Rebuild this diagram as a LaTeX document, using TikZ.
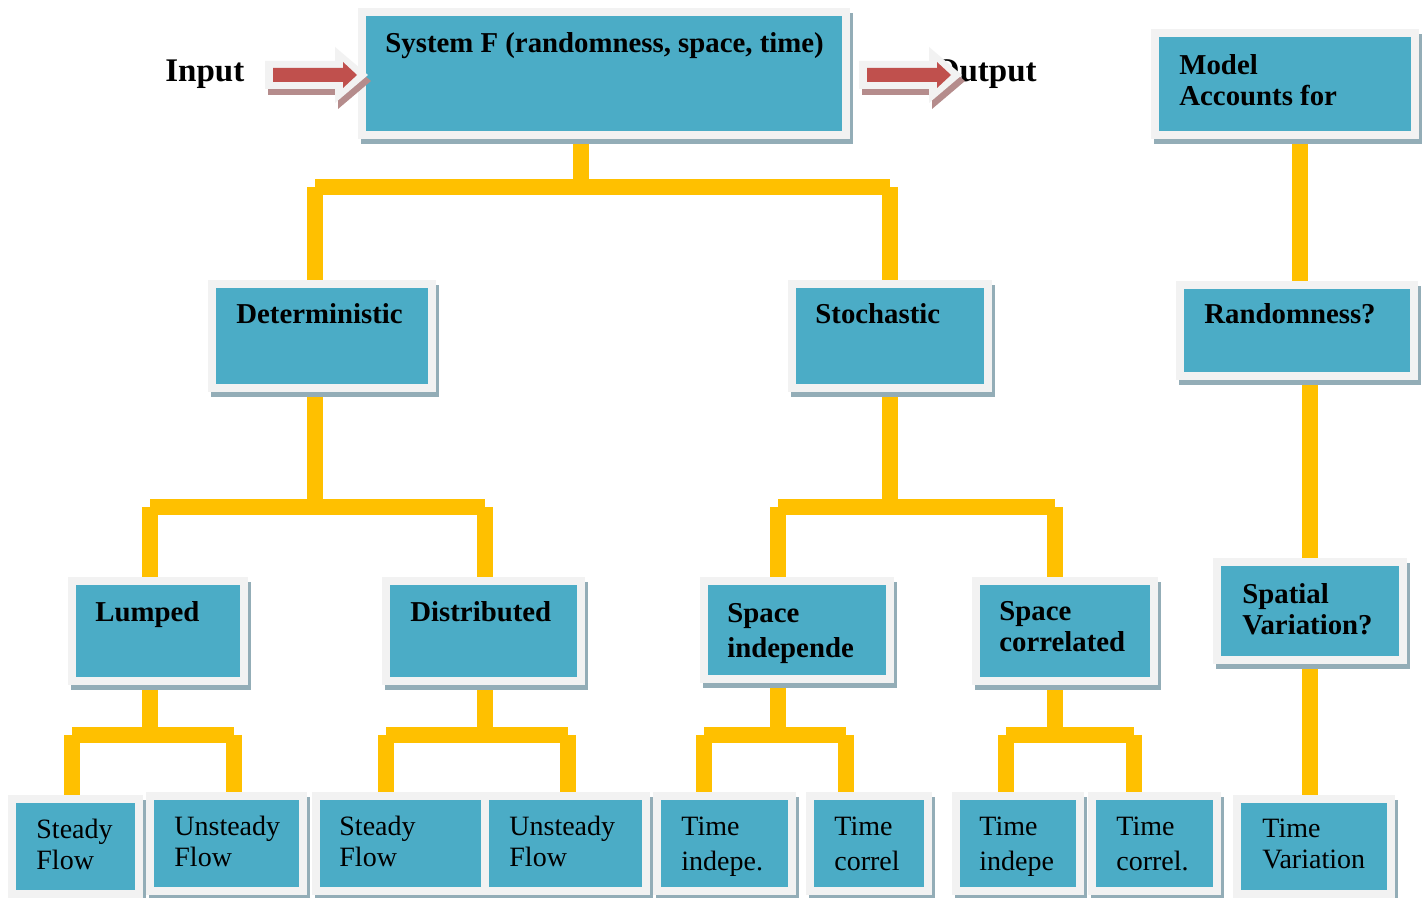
\documentclass[tikz,border=0pt]{standalone}
\usepackage{fontspec}
\setmainfont{Liberation Serif}
\usetikzlibrary{fit,shadows}
\definecolor{boxblue}{HTML}{4BACC6}
\definecolor{framegrey}{HTML}{F2F2F2}
\definecolor{shadowc}{HTML}{93ADB7}
\definecolor{connyellow}{HTML}{FFC000}
\definecolor{arrowred}{HTML}{C0504D}
\definecolor{arrowshadow}{HTML}{B58C8C}
\pgfdeclarelayer{bg}
\pgfsetlayers{bg,main}
\tikzset{
  box/.style={fill=framegrey, draw=none, inner sep=0pt, outer sep=0pt,
    drop shadow={shadow xshift=1.5pt, shadow yshift=-2.5pt, fill=shadowc, opacity=1},
    path picture={\fill[boxblue] ([shift={(4pt,-4pt)}]path picture bounding box.north west)
      rectangle ([shift={(-4pt,4pt)}]path picture bounding box.south east);}},
  btxt/.style={anchor=north west, inner sep=0pt, align=left, font=\bfseries\fontsize{14.4}{15.5}\selectfont},
  btxtw/.style={btxt, font=\bfseries\fontsize{14.4}{17.5}\selectfont},
  rtxt/.style={anchor=north west, inner sep=0pt, align=left, font=\fontsize{14}{15.5}\selectfont},
  rtxtw/.style={rtxt, font=\fontsize{14}{17.5}\selectfont},
  conn/.style={draw=connyellow, line width=8pt, line cap=butt},
  bigtxt/.style={inner sep=0pt, font=\bfseries\fontsize{16.5}{18}\selectfont},
  blockarrow/.pic={
    \fill[arrowshadow] (3,-8) -- (73,-8) -- (73,-22) -- (106,6) -- (73,34) -- (73,20) -- (3,20) -- cycle;
    \fill[framegrey] (0,-14) -- (70,-14) -- (70,-28) -- (103,0) -- (70,28) -- (70,14) -- (0,14) -- cycle;
    \fill[arrowred] (8,-7) -- (78,-7) -- (78,-13) -- (92,0) -- (78,13) -- (78,7) -- (8,7) -- cycle;
  }
}
\begin{document}
\begin{tikzpicture}[x=0.5pt,y=-0.5pt]
\useasboundingbox (0,0) rectangle (1426,898);

% boxes
\node[box, fit={(358,8)(850,139)}] (sysF) {};
\node[box, fit={(1151,29)(1419,139)}] (model) {};
\node[box, fit={(208,280)(436,392)}] (det) {};
\node[box, fit={(788,280)(992,392)}] (stoch) {};
\node[box, fit={(1176,281)(1418,380)}] (rand) {};
\node[box, fit={(68,577)(248,685)}] (lumped) {};
\node[box, fit={(382,577)(585,685)}] (distr) {};
\node[box, fit={(700,577)(894,683)}] (spind) {};
\node[box, fit={(972,577)(1158,685)}] (spcor) {};
\node[box, fit={(1213,558)(1407,664)}] (spatial) {};
\node[box, fit={(8,795)(143,898)}] (sf1) {};
\node[box, fit={(146,792)(307,895)}] (uf1) {};
\node[box, fit={(312,792)(489,895)}] (sf2) {};
\node[box, fit={(481,792)(650,895)}] (uf2) {};
\node[box, fit={(653,792)(796,895)}] (ti1) {};
\node[box, fit={(806,792)(932,895)}] (tc1) {};
\node[box, fit={(952,792)(1084,895)}] (ti2) {};
\node[box, fit={(1088,792)(1221,895)}] (tc2) {};
\node[box, fit={(1233,795)(1395,898)}] (tv) {};

% texts
\node[btxt] (sysF-t) at (385,32) {System F (randomness, space, time)};
\node[btxt] (model-t) at (1179,54) {Model\\Accounts for};
\node[btxt] (det-t) at (236,303) {Deterministic};
\node[btxt] (stoch-t) at (815,303) {Stochastic};
\node[btxt] (rand-t) at (1204,303) {Randomness?};
\node[btxt] (lumped-t) at (95,601) {Lumped};
\node[btxt] (distr-t) at (410,601) {Distributed};
\node[btxtw] (spind-t) at (727,603) {Space\\independe};
\node[btxt] (spcor-t) at (999,601) {Space\\correlated};
\node[btxt] (spatial-t) at (1242,583) {Spatial\\Variation?};
\node[rtxt] (sf1-t) at (36,819) {Steady\\Flow};
\node[rtxt] (uf1-t) at (174,816) {Unsteady\\Flow};
\node[rtxt] (sf2-t) at (339,816) {Steady\\Flow};
\node[rtxt] (uf2-t) at (509,816) {Unsteady\\Flow};
\node[rtxtw] (ti1-t) at (681,817) {Time\\indepe.};
\node[rtxtw] (tc1-t) at (834,817) {Time\\correl};
\node[rtxtw] (ti2-t) at (979,817) {Time\\indepe};
\node[rtxtw] (tc2-t) at (1116,817) {Time\\correl.};
\node[rtxt] (tv-t) at (1262,819) {Time\\Variation};

% input / output
\node[bigtxt, anchor=base west] (input) at (165,82) {Input};
\node[bigtxt, anchor=base east] (output) at (1037,82) {Output};
\pic at (265,75) {blockarrow};
\pic at (859,75) {blockarrow};

% connector attachment points
\coordinate (sysF-out) at ([xshift=-11.5pt]sysF.south);
\coordinate (det-in) at ([xshift=-3.5pt]det.north);
\coordinate (det-out) at ([xshift=-3.5pt]det.south);
\coordinate (stoch-in) at (stoch.north);
\coordinate (stoch-out) at (stoch.south);
\coordinate (lumped-in) at ([xshift=-4pt]lumped.north);
\coordinate (lumped-out) at ([xshift=-4pt]lumped.south);
\coordinate (distr-in) at ([xshift=0.75pt]distr.north);
\coordinate (distr-out) at ([xshift=0.75pt]distr.south);
\coordinate (spind-in) at ([xshift=-9.5pt]spind.north);
\coordinate (spind-out) at ([xshift=-9.5pt]spind.south);
\coordinate (spcor-in) at ([xshift=-5pt]spcor.north);
\coordinate (spcor-out) at ([xshift=-5pt]spcor.south);
\coordinate (sf1-in) at ([xshift=-1.75pt]sf1.north);
\coordinate (uf1-in) at ([xshift=3.75pt]uf1.north);
\coordinate (sf2-in) at ([xshift=-7.25pt]sf2.north);
\coordinate (uf2-in) at ([xshift=1.25pt]uf2.north);
\coordinate (ti1-in) at ([xshift=-10.25pt]ti1.north);
\coordinate (tc1-in) at ([xshift=-11.5pt]tc1.north);
\coordinate (ti2-in) at ([xshift=-6pt]ti2.north);
\coordinate (tc2-in) at ([xshift=-10.25pt]tc2.north);
\coordinate (model-out) at ([xshift=7.5pt]model.south);
\coordinate (rand-in) at ([xshift=1.5pt]rand.north);
\coordinate (rand-out) at ([xshift=6.5pt]rand.south);
\coordinate (tv-in) at ([xshift=-2pt]tv.north);
\coordinate (b1) at (0,187);
\coordinate (b2) at (0,507);
\coordinate (b3) at (0,735);

\begin{pgfonlayer}{bg}
\fill[white] (0,0) rectangle (1426,898);
% level 1
\draw[conn] (sysF-out) -- (sysF-out |- b1);
\draw[conn] (det-in |- b1) -- (stoch-in |- b1);
\draw[conn] (det-in |- b1) -- (det-in);
\draw[conn] (stoch-in |- b1) -- (stoch-in);
% level 2 left
\draw[conn] (det-out) -- (det-out |- b2);
\draw[conn] (lumped-in |- b2) -- (distr-in |- b2);
\draw[conn] (lumped-in |- b2) -- (lumped-in);
\draw[conn] (distr-in |- b2) -- (distr-in);
% level 2 right
\draw[conn] (stoch-out) -- (stoch-out |- b2);
\draw[conn] (spind-in |- b2) -- (spcor-in |- b2);
\draw[conn] (spind-in |- b2) -- (spind-in);
\draw[conn] (spcor-in |- b2) -- (spcor-in);
% level 3
\draw[conn] (lumped-out) -- (lumped-out |- b3);
\draw[conn] (sf1-in |- b3) -- (uf1-in |- b3);
\draw[conn] (sf1-in |- b3) -- (sf1-in);
\draw[conn] (uf1-in |- b3) -- (uf1-in);
\draw[conn] (distr-out) -- (distr-out |- b3);
\draw[conn] (sf2-in |- b3) -- (uf2-in |- b3);
\draw[conn] (sf2-in |- b3) -- (sf2-in);
\draw[conn] (uf2-in |- b3) -- (uf2-in);
\draw[conn] (spind-out) -- (spind-out |- b3);
\draw[conn] (ti1-in |- b3) -- (tc1-in |- b3);
\draw[conn] (ti1-in |- b3) -- (ti1-in);
\draw[conn] (tc1-in |- b3) -- (tc1-in);
\draw[conn] (spcor-out) -- (spcor-out |- b3);
\draw[conn] (ti2-in |- b3) -- (tc2-in |- b3);
\draw[conn] (ti2-in |- b3) -- (ti2-in);
\draw[conn] (tc2-in |- b3) -- (tc2-in);
% right column
\draw[conn] (model-out) -- (rand-in);
\draw[conn] (rand-out) -- (spatial.north);
\draw[conn] (spatial.south) -- (tv-in);
\end{pgfonlayer}
\end{tikzpicture}
\end{document}
